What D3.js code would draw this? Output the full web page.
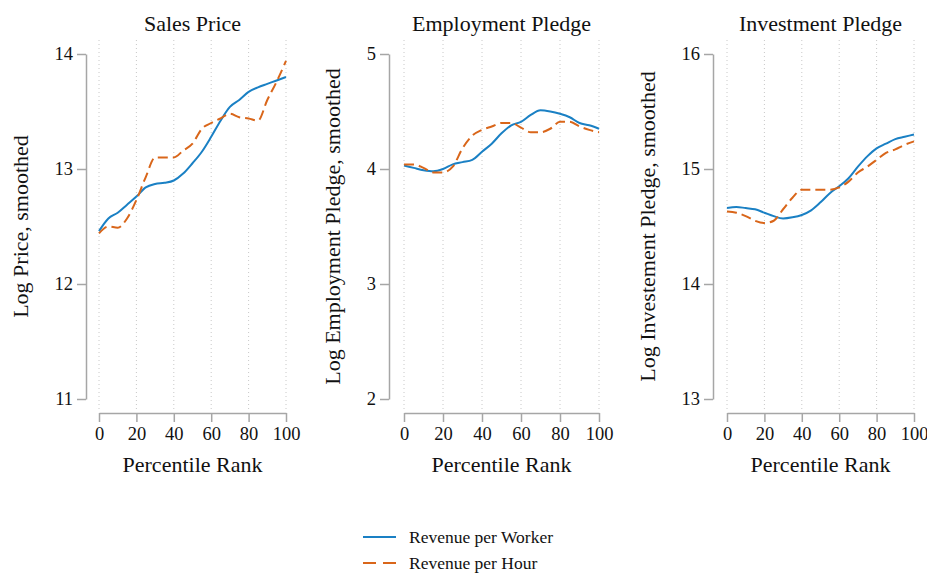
<!DOCTYPE html>
<html>
<head>
<meta charset="utf-8">
<script src="https://cdn.jsdelivr.net/npm/d3@7"></script>
<style>
    body { margin: 0; background: white; }
    svg text { font-family: "Liberation Serif", "Times New Roman", Tinos, "DejaVu Serif", serif !important; fill: #111; }
    .axis path, .axis line { stroke: #a6a6a6; stroke-width: 1.5; }
    .grid line { stroke: #c8c8c8; stroke-width: 1; stroke-dasharray: 1,3; }
</style>
</head>
<body>
<div id="chart"></div>
<script>

    // percentile rank grid
    var ranks = [0, 5, 10, 15, 20, 25, 30, 35, 40, 45, 50, 55, 60, 65, 70, 75, 80, 85, 90, 95, 100];
    var xTicks = [0, 20, 40, 60, 80, 100];

    // Sales Price
    var priceWorker = [12.46, 12.57, 12.62, 12.69, 12.76, 12.84, 12.87, 12.88, 12.90, 12.96, 13.05, 13.15, 13.28, 13.42, 13.54, 13.60, 13.67, 13.71, 13.74, 13.77, 13.80];
    var priceHour   = [12.44, 12.50, 12.49, 12.57, 12.73, 12.93, 13.10, 13.10, 13.10, 13.16, 13.22, 13.35, 13.40, 13.44, 13.48, 13.45, 13.44, 13.42, 13.60, 13.76, 13.94];

    // Employment Pledge
    var empWorker = [4.03, 4.01, 3.99, 3.98, 4.00, 4.04, 4.06, 4.08, 4.15, 4.22, 4.31, 4.38, 4.41, 4.47, 4.51, 4.50, 4.48, 4.45, 4.40, 4.38, 4.35];
    var empHour   = [4.04, 4.04, 4.01, 3.97, 3.97, 4.02, 4.18, 4.29, 4.34, 4.37, 4.40, 4.40, 4.36, 4.32, 4.32, 4.35, 4.41, 4.41, 4.37, 4.34, 4.32];

    // Investment Pledge
    var invWorker = [14.66, 14.67, 14.66, 14.65, 14.62, 14.59, 14.57, 14.58, 14.60, 14.64, 14.71, 14.79, 14.85, 14.92, 15.02, 15.11, 15.18, 15.22, 15.26, 15.28, 15.30];
    var invHour   = [14.63, 14.62, 14.59, 14.55, 14.53, 14.55, 14.65, 14.75, 14.82, 14.82, 14.82, 14.82, 14.84, 14.89, 14.97, 15.02, 15.08, 15.14, 15.17, 15.21, 15.24];

    var seriesNames = ["Revenue per Worker", "Revenue per Hour"];
    var colors = ["#1a80c4", "#d9661a"];
    var dashes = [null, "10,5"];

    var panels = [
        { title: "Sales Price", ylabel: "Log Price, smoothed", domain: [11, 14], ticks: [11, 12, 13, 14],
          series: [priceWorker, priceHour], x0: 99, x1: 286, axisX: 86, labelX: 23 },
        { title: "Employment Pledge", ylabel: "Log Employment Pledge, smoothed", domain: [2, 5], ticks: [2, 3, 4, 5],
          series: [empWorker, empHour], x0: 404, x1: 599, axisX: 389, labelX: 335 },
        { title: "Investment Pledge", ylabel: "Log Investement Pledge, smoothed", domain: [13, 16], ticks: [13, 14, 15, 16],
          series: [invWorker, invHour], x0: 727, x1: 914, axisX: 713, labelX: 650 }
    ];

    var width = 927, height = 573;
    var yTop = 54, yBottom = 399, xAxisY = 413;
    var serif = '"Liberation Serif", "Times New Roman", Tinos, "DejaVu Serif", serif';

    var svg = d3.select('#chart').append('svg')
        .attr('width', width)
        .attr('height', height);

    panels.forEach(function(p) {
        var xScale = d3.scaleLinear().domain([0, 100]).range([p.x0, p.x1]);
        var yScale = d3.scaleLinear().domain(p.domain).range([yBottom, yTop]);

        var g = svg.append('g');

        // dotted vertical grid
        g.append('g').attr('class', 'grid')
            .selectAll('line')
            .data(xTicks)
            .enter()
            .append('line')
            .attr('x1', function(d) { return xScale(d); })
            .attr('x2', function(d) { return xScale(d); })
            .attr('y1', 40)
            .attr('y2', 410);

        // y axis
        var yAxis = g.append('g')
            .attr('class', 'axis')
            .attr('transform', 'translate(' + p.axisX + ',0)')
            .call(d3.axisLeft(yScale).tickValues(p.ticks).tickFormat(d3.format('d'))
                .tickSize(9).tickSizeOuter(0).tickPadding(4));
        yAxis.attr('font-family', serif);
        yAxis.selectAll('text').style('font-size', '18.5px');

        // x axis
        var xAxis = g.append('g')
            .attr('class', 'axis')
            .attr('transform', 'translate(0,' + xAxisY + ')')
            .call(d3.axisBottom(xScale).tickValues(xTicks).tickFormat(d3.format('d'))
                .tickSize(9).tickSizeOuter(0).tickPadding(5));
        xAxis.attr('font-family', serif);
        xAxis.selectAll('text').style('font-size', '18.5px');

        // title
        g.append('text')
            .attr('x', (p.x0 + p.x1) / 2)
            .attr('y', 31)
            .attr('text-anchor', 'middle')
            .style('font-size', '22px')
            .text(p.title);

        // y label
        g.append('text')
            .attr('transform', 'translate(' + (p.labelX + 5) + ',' + ((yTop + yBottom) / 2) + ') rotate(-90)')
            .attr('text-anchor', 'middle')
            .style('font-size', '22px')
            .text(p.ylabel);

        // x label
        g.append('text')
            .attr('x', (p.x0 + p.x1) / 2)
            .attr('y', 472)
            .attr('text-anchor', 'middle')
            .style('font-size', '22px')
            .text('Percentile Rank');

        var line = d3.line()
            .x(function(d, i) { return xScale(ranks[i]); })
            .y(function(d) { return yScale(d); })
            .curve(d3.curveMonotoneX);

        p.series.forEach(function(s, i) {
            g.append('path')
                .datum(s)
                .attr('fill', 'none')
                .attr('stroke', colors[i])
                .attr('stroke-width', 2)
                .attr('stroke-dasharray', dashes[i])
                .attr('d', line);
        });
    });

    // legend
    var legend = svg.append('g');
    seriesNames.forEach(function(name, i) {
        var y = 537 + i * 26;
        legend.append('line')
            .attr('x1', 363).attr('x2', 396)
            .attr('y1', y).attr('y2', y)
            .attr('stroke', colors[i])
            .attr('stroke-width', 2)
            .attr('stroke-dasharray', dashes[i] ? "13,7" : null);
        legend.append('text')
            .attr('x', 409)
            .attr('y', y + 6)
            .style('font-size', '17.5px')
            .text(name);
    });

</script>
</body>
</html>
